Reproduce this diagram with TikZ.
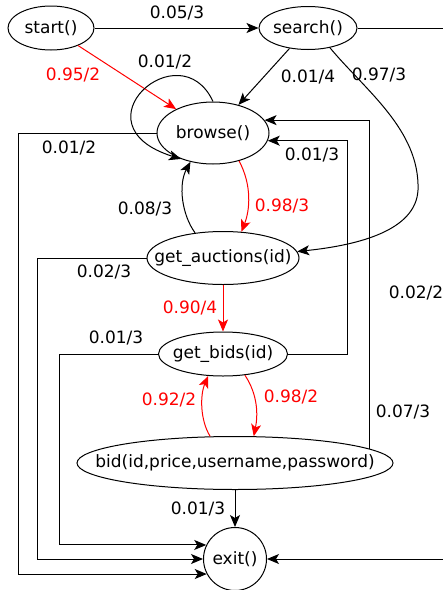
\documentclass[tikz,border=0pt]{standalone}
\usepackage{fontspec}
\setmainfont{DejaVu Sans}
\usetikzlibrary{shapes.geometric}
\usetikzlibrary{arrows.meta}

\begin{document}
\begin{tikzpicture}[x=1pt,y=-1pt,
  fn/.style={draw,ellipse,inner sep=0pt,line width=1pt,font=\fontsize{17}{20}\selectfont},
  lbl/.style={font=\fontsize{17}{20}\selectfont},
  arr/.style={-{Stealth[length=12pt,width=10pt,inset=3pt]},line width=1pt},
  hot/.style={arr,red}]
\useasboundingbox (0,0) rectangle (443,590);
\clip (0,0) rectangle (443,590);
% states
\node[fn,minimum width=86,minimum height=44] (start) at (51,28) {\makebox[0pt]{start()}};
\node[fn,minimum width=98,minimum height=43] (search) at (308,28) {\makebox[0pt]{search()}};
\node[fn,minimum width=112,minimum height=62] (browse) at (213,133) {\makebox[0pt]{browse()}};
\node[fn,minimum width=152,minimum height=53] (auct) at (223,258) {\makebox[0pt]{get\_auctions(id)}};
\node[fn,minimum width=129,minimum height=44] (bids) at (223,354) {\makebox[0pt]{get\_bids(id)}};
\node[fn,minimum width=316,minimum height=53] (bid) at (235,463) {\makebox[0pt]{bid(id,price,username,password)}};
\node[fn,circle,minimum size=63] (exit) at (235,559) {\makebox[0pt]{exit()}};
% transitions
\draw[arr] (start) -- (search);
\draw[hot] (start) -- (browse);
\draw[arr] (browse.north) .. controls (180,30) and (72,125) .. (browse.219);
\draw[arr] (search) -- (browse);
\draw[arr] (search.-42) .. controls (365,90) and (420,130) .. (418,190)
  .. controls (416,230) and (360,245) .. (auct.5);
\draw[arr] (search.east) -- (460,28) |- (exit.east);
\draw[arr] (browse.west) -- (18,133) |- (exit.208);
\draw[hot] (browse.-47) .. controls (252,185) and (250,210) .. (auct.55);
\draw[arr] (auct.138) .. controls (182,215) and (178,185) .. (browse.232);
\draw[arr] (auct.west) -- (37,258) |- (exit.west);
\draw[hot] (auct) -- (bids);
\draw[arr] (bids.east) -- (347,354) |- (browse.-8);
\draw[arr] (bids.west) -- (59,354) |- (exit.154);
\draw[hot] (bids.-44) .. controls (258,395) and (258,415) .. (bid.55);
\draw[hot] (bid.133) .. controls (200,420) and (200,395) .. (bids.236);
\draw[arr] (bid.6) |- (browse.14);
\draw[arr] (bid) -- (exit);
% probabilities
\node[lbl] (p1) at (177,13) {0.05/3};
\node[lbl,red] (p2) at (73,75) {0.95/2};
\node[lbl] (p3) at (165,62) {0.01/2};
\node[lbl] (p4) at (308,77) {0.01/4};
\node[lbl] (p5) at (379,75) {0.97/3};
\node[lbl] (p6) at (69,148) {0.01/2};
\node[lbl] (p7) at (312,155) {0.01/3};
\node[lbl,red] (p8) at (282,206) {0.98/3};
\node[lbl] (p9) at (145,209) {0.08/3};
\node[lbl] (p10) at (104,272) {0.02/3};
\node[lbl] (p11) at (416,293) {0.02/2};
\node[lbl,red] (p12) at (190,308) {0.90/4};
\node[lbl] (p13) at (116,338) {0.01/3};
\node[lbl,red] (p14) at (169,400) {0.92/2};
\node[lbl,red] (p15) at (291,397) {0.98/2};
\node[lbl] (p16) at (403,412) {0.07/3};
\node[lbl] (p17) at (198,509) {0.01/3};
\end{tikzpicture}
\end{document}
